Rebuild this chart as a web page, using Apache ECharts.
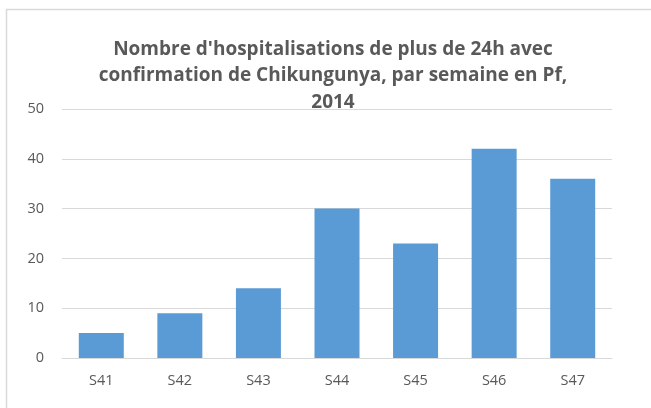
<!DOCTYPE html>
<html>
<head>
<meta charset="utf-8">
<script src="https://cdn.jsdelivr.net/npm/echarts@6/dist/echarts.min.js"></script>
<style>
  html, body { margin: 0; padding: 0; background: #fff; }
  #chart-container { width: 651px; height: 408px; }
</style>
</head>
<body>
<div id="chart-container"></div>
<script>
// donnees
const weeks = ['S41', 'S42', 'S43', 'S44', 'S45', 'S46', 'S47'];
const hospitalisations = [5, 9, 14, 30, 23, 42, 36];

var dom = document.getElementById('chart-container');
var myChart = echarts.init(dom, null, { renderer: 'canvas' });

var option = {
  animation: false,
  backgroundColor: '#fff',
  graphic: [
    {
      // cadre du graphique (coupe a droite et en bas)
      type: 'rect',
      shape: { x: 6.5, y: 9.5, width: 700, height: 500 },
      style: { fill: 'none', stroke: '#d9d9d9', lineWidth: 1.5 },
      silent: true
    }
  ],
  title: {
    text: "Nombre d'hospitalisations de plus de 24h avec\nconfirmation de Chikungunya, par semaine en Pf,\n2014",
    left: 328,
    textAlign: 'center',
    top: 31,
    textStyle: {
      color: '#595959',
      fontFamily: 'Open Sans',
      fontWeight: 'bold',
      fontSize: 19,
      lineHeight: 26.5
    }
  },
  grid: {
    left: 62,
    right: 39,
    top: 109,
    bottom: 50,
    containLabel: false
  },
  xAxis: {
    type: 'category',
    data: weeks,
    axisTick: { show: false },
    axisLine: { lineStyle: { color: '#d9d9d9', width: 1 } },
    axisLabel: {
      color: '#595959',
      fontFamily: 'Open Sans',
      fontSize: 14.5,
      margin: 15
    }
  },
  yAxis: {
    type: 'value',
    min: 0,
    max: 50,
    interval: 10,
    axisLine: { show: false },
    axisTick: { show: false },
    splitLine: { lineStyle: { color: '#d9d9d9', width: 1 } },
    axisLabel: {
      color: '#595959',
      fontFamily: 'Open Sans',
      fontSize: 14.5,
      margin: 18
    }
  },
  series: [
    {
      type: 'bar',
      data: hospitalisations,
      barWidth: 45,
      itemStyle: { color: '#5b9bd5' }
    }
  ]
};

myChart.setOption(option);
</script>
</body>
</html>
